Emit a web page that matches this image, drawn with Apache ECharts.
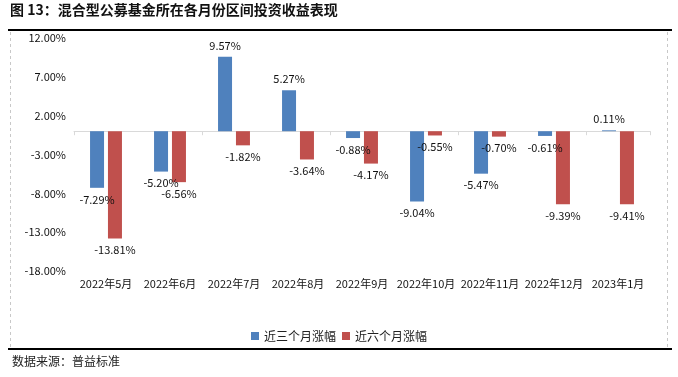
<!DOCTYPE html>
<html>
<head>
<meta charset="utf-8">
<script src="https://cdn.jsdelivr.net/npm/echarts@6/dist/echarts.min.js"></script>
<style>
    html, body { margin: 0; padding: 0; background: #fff; }
    #chart { width: 678px; height: 377px; }
</style>
</head>
<body>
<div id="chart"></div>
<script>
// 月份
const months = ['2022年5月', '2022年6月', '2022年7月', '2022年8月', '2022年9月', '2022年10月', '2022年11月', '2022年12月', '2023年1月'];
// 近三个月涨幅 (%)
const threeMonth = [-7.29, -5.20, 9.57, 5.27, -0.88, -9.04, -5.47, -0.61, 0.11];
// 近六个月涨幅 (%)
const sixMonth = [-13.81, -6.56, -1.82, -3.64, -4.17, -0.55, -0.70, -9.39, -9.41];
const seriesNames = ['近三个月涨幅', '近六个月涨幅'];
const titleText = '图 13：混合型公募基金所在各月份区间投资收益表现';
const sourceText = '数据来源：普益标准';

const font = '"Noto Sans CJK SC", "DejaVu Sans", sans-serif';

// 正数标签放上面，负数放下面
const toItems = (arr) => arr.map(v => ({
    value: v,
    label: { position: v >= 0 ? 'top' : 'bottom' }
}));

const myChart = echarts.init(document.getElementById('chart'));
myChart.setOption({
    animation: false,
    textStyle: { fontFamily: font },
    grid: {
        left: 74,
        right: 28,
        top: 38,
        bottom: 106
    },
    legend: {
        data: seriesNames,
        top: 325,
        left: 'center',
        itemWidth: 8,
        itemHeight: 8,
        itemGap: 6,
        icon: 'rect',
        textStyle: { fontSize: 12, color: '#222', fontFamily: font }
    },
    xAxis: [
        {
            type: 'category',
            data: months,
            axisLine: { onZero: true, lineStyle: { color: '#d9d9d9', width: 1 } },
            axisTick: { show: true, length: 4, lineStyle: { color: '#d9d9d9' } },
            axisLabel: { show: false }
        },
        {
            type: 'category',
            data: months,
            position: 'bottom',
            axisLine: { show: false, onZero: false },
            axisTick: { show: false },
            axisLabel: { fontSize: 11, color: '#111', margin: 7, interval: 0 }
        }
    ],
    yAxis: {
        type: 'value',
        min: -18,
        max: 12,
        interval: 5,
        axisLine: { show: false },
        axisTick: { show: false },
        splitLine: { show: false },
        axisLabel: {
            fontSize: 11,
            color: '#111',
            margin: 8,
            formatter: v => v.toFixed(2) + '%'
        }
    },
    series: [
        {
            name: seriesNames[0],
            type: 'bar',
            xAxisIndex: 0,
            barWidth: 14,
            barGap: '28%',
            itemStyle: { color: '#4F81BD' },
            label: {
                show: true,
                distance: 6,
                fontSize: 11,
                color: '#111',
                formatter: p => p.value.toFixed(2) + '%'
            },
            data: toItems(threeMonth)
        },
        {
            name: seriesNames[1],
            type: 'bar',
            xAxisIndex: 0,
            barWidth: 14,
            itemStyle: { color: '#C0504D' },
            label: {
                show: true,
                distance: 6,
                fontSize: 11,
                color: '#111',
                formatter: p => p.value.toFixed(2) + '%'
            },
            data: toItems(sixMonth)
        }
    ],
    graphic: [
        {
            type: 'text',
            left: 10,
            top: 3,
            style: { text: titleText, fontSize: 14, fontWeight: 'bold', fill: '#111', fontFamily: font }
        },
        {
            type: 'line',
            shape: { x1: 8, y1: 30, x2: 672, y2: 30 },
            style: { stroke: '#000', lineWidth: 2 }
        },
        {
            type: 'line',
            shape: { x1: 10.5, y1: 32, x2: 10.5, y2: 347 },
            style: { stroke: '#c8c8c8', lineWidth: 1, lineDash: [3, 3] }
        },
        {
            type: 'line',
            shape: { x1: 667.5, y1: 32, x2: 667.5, y2: 347 },
            style: { stroke: '#c8c8c8', lineWidth: 1, lineDash: [3, 3] }
        },
        {
            type: 'line',
            shape: { x1: 8, y1: 349, x2: 672, y2: 349 },
            style: { stroke: '#000', lineWidth: 2 }
        },
        {
            type: 'text',
            left: 12,
            top: 355,
            style: { text: sourceText, fontSize: 12, fill: '#222', fontFamily: font }
        }
    ]
});
</script>
</body>
</html>
